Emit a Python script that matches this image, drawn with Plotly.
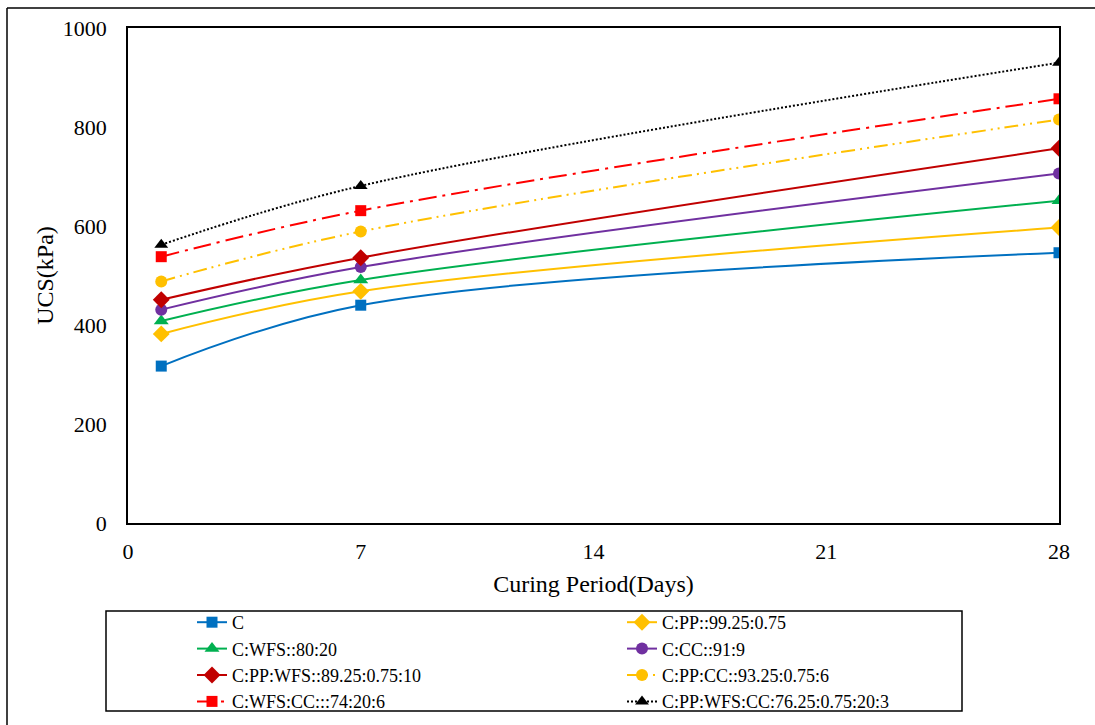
import plotly.graph_objects as go

days = [1, 7, 28]
names = ["C", "C:PP::99.25:0.75", "C:WFS::80:20", "C:CC::91:9",
         "C:PP:WFS::89.25:0.75:10", "C:PP:CC::93.25:0.75:6",
         "C:WFS:CC:::74:20:6", "C:PP:WFS:CC:76.25:0.75:20:3"]
c_vals = [317, 440, 546]
c_pp = [382, 468, 597]
c_wfs = [408, 491, 651]
c_cc = [431, 517, 706]
c_pp_wfs = [451, 536, 757]
c_pp_cc = [488, 589, 815]
c_wfs_cc = [538, 631, 857]
c_pp_wfs_cc = [562, 681, 930]
series = [c_vals, c_pp, c_wfs, c_cc, c_pp_wfs, c_pp_cc, c_wfs_cc, c_pp_wfs_cc]

colors = ["#0070C0", "#FFC000", "#00B050", "#7030A0", "#C00000", "#FFC000", "#FF0000", "#000000"]
symbols = ["square", "diamond", "triangle-up", "circle", "diamond", "circle", "square", "triangle-up"]
sizes = [11, 13, 13, 12, 13, 12, 11, 12]
dashes = ["solid", "solid", "solid", "solid", "solid",
          "14px,5px,2px,5px,2px,5px", "18px,6px,3px,6px", "2px,2px"]

fig = go.Figure()
for n, v, col, sym, sz, d in zip(names, series, colors, symbols, sizes, dashes):
    fig.add_trace(go.Scatter(
        x=days, y=v, name=n, mode="lines+markers",
        line=dict(color=col, width=2, dash=d, shape="spline", smoothing=1),
        marker=dict(symbol=sym, size=sz, color=col),
    ))

W, H = 1095, 725
L, R, T, B = 128, 36, 28, 202
pw, ph = W - L - R, H - T - B

def px(xp):
    return (xp - L) / pw

def py(yp):
    return (H - B - yp) / ph

FAM = "Liberation Serif"
fig.update_layout(
    width=W, height=H,
    margin=dict(l=L, r=R, t=T, b=B, autoexpand=False),
    paper_bgcolor="white", plot_bgcolor="white",
    font=dict(family=FAM, color="black", size=18),
    xaxis=dict(range=[0, 28], tickvals=[0, 7, 14, 21, 28], showgrid=False, zeroline=False,
               showline=True, mirror=True, linecolor="black", linewidth=1.5,
               tickfont=dict(family=FAM, size=22), ticklabelstandoff=8,
               title=dict(text="Curing Period(Days)", font=dict(family=FAM, size=24), standoff=12)),
    yaxis=dict(range=[0, 1000], tickvals=[0, 200, 400, 600, 800, 1000], showgrid=False, zeroline=False,
               showline=True, mirror=True, linecolor="black", linewidth=1.5,
               tickfont=dict(family=FAM, size=22), ticklabelstandoff=15,
               title=dict(text="UCS(kPa)", font=dict(family=FAM, size=24), standoff=2)),
    legend=dict(orientation="h", x=px(192), xanchor="left", y=py(604), yanchor="top",
                entrywidth=385, entrywidthmode="pixels", bgcolor="rgba(0,0,0,0)",
                borderwidth=0, font=dict(family=FAM, size=18), tracegroupgap=0, itemwidth=30),
    showlegend=True,
    shapes=[
        dict(type="rect", xref="paper", yref="paper", x0=px(106), x1=px(962), y0=py(711), y1=py(611),
             line=dict(color="black", width=1.5)),
        dict(type="line", xref="paper", yref="paper", x0=px(7), x1=px(1095), y0=py(8), y1=py(8),
             line=dict(color="black", width=1.5)),
        dict(type="line", xref="paper", yref="paper", x0=px(7), x1=px(7), y0=py(8), y1=py(725),
             line=dict(color="black", width=1.5)),
    ],
)

fig.write_html("out.html")
